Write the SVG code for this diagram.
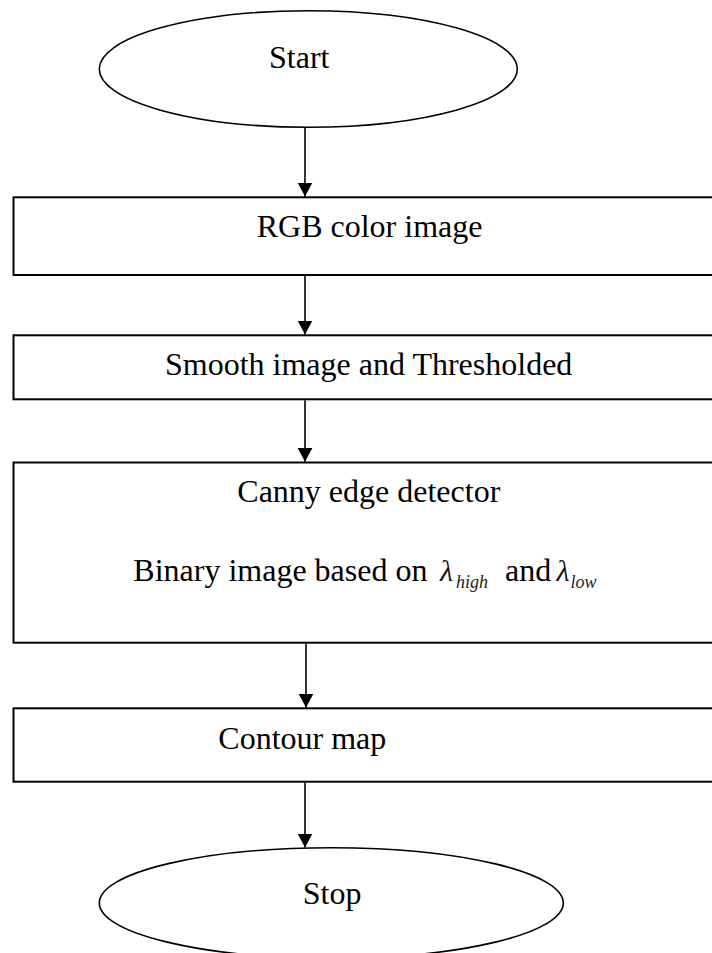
<svg xmlns="http://www.w3.org/2000/svg" width="712" height="953" viewBox="0 0 712 953">
<style>
.box{fill:#fff;stroke:#000;stroke-width:2}
.ell{fill:#fff;stroke:#000;stroke-width:1.6}
.t{font-family:"Liberation Serif","Times New Roman",serif;font-size:32px;fill:#000}
.lam{font-family:"Liberation Serif","Times New Roman",serif;font-style:italic;font-size:30px;fill:#111}
.sub{font-family:"Liberation Serif","Times New Roman",serif;font-style:italic;font-size:18px;fill:#222}
.c{stroke:#000;stroke-width:1.6;fill:none}
</style>
<defs>
<marker id="ah" markerUnits="userSpaceOnUse" markerWidth="16" markerHeight="16" refX="14" refY="8" orient="auto">
<path d="M0,0.5 L14,8 L0,15.5 Z" fill="#000"/>
</marker>
</defs>
<rect width="712" height="953" fill="#fff"/>
<g id="start">
<ellipse class="ell" cx="308.3" cy="69" rx="209" ry="58.2"/>
<text class="t" x="269" y="68">Start</text>
</g>
<g id="rgb">
<rect class="box" x="13.5" y="197.3" width="712" height="77.7"/>
<text class="t" x="256.7" y="237">RGB color image</text>
</g>
<g id="smooth">
<rect class="box" x="13.5" y="335.3" width="712" height="64"/>
<text class="t" x="165" y="375">Smooth image and Thresholded</text>
</g>
<g id="canny">
<rect class="box" x="13.5" y="462.5" width="712" height="180.2"/>
<text class="t" x="237.3" y="501.7">Canny edge detector</text>
<text class="t" x="133.3" y="580.7">Binary image based on</text>
<text class="lam" x="440" y="580.7">λ</text>
<text class="sub" x="456" y="588">high</text>
<text class="t" x="505" y="580.7">and</text>
<text class="lam" x="556.5" y="580.7">λ</text>
<text class="sub" x="570.5" y="588">low</text>
</g>
<g id="contour">
<rect class="box" x="13.5" y="708.3" width="712" height="73.4"/>
<text class="t" x="218.3" y="749">Contour map</text>
</g>
<g id="stop">
<ellipse class="ell" cx="331.3" cy="903" rx="232" ry="55.3"/>
<text class="t" x="302.7" y="904">Stop</text>
</g>
<g id="connectors">
<line class="c" x1="305" y1="127.5" x2="305" y2="196.5" marker-end="url(#ah)"/>
<line class="c" x1="305" y1="276" x2="305" y2="334.5" marker-end="url(#ah)"/>
<line class="c" x1="305" y1="400.3" x2="305" y2="461.8" marker-end="url(#ah)"/>
<line class="c" x1="306" y1="643.7" x2="306" y2="707.6" marker-end="url(#ah)"/>
<line class="c" x1="305" y1="782.7" x2="305" y2="847.5" marker-end="url(#ah)"/>
</g>
</svg>
